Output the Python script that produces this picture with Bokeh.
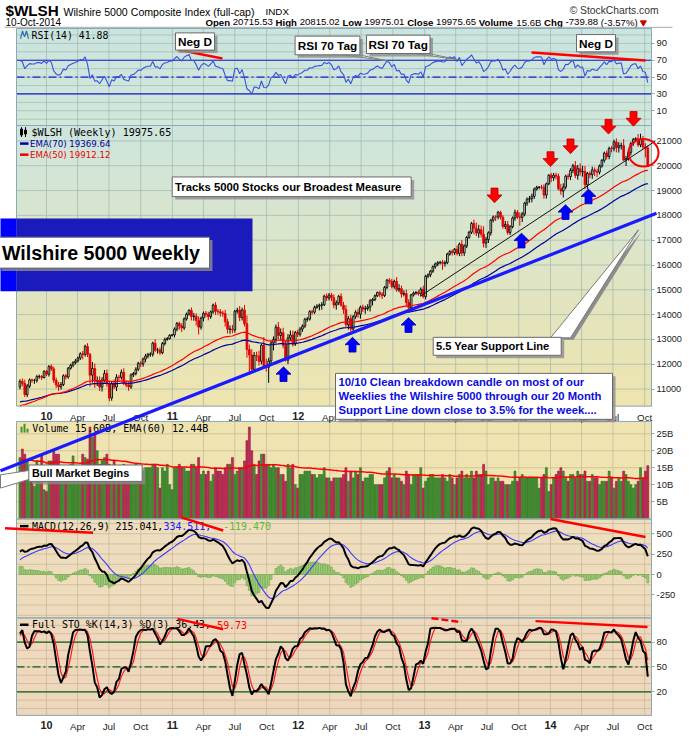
import numpy as np
import pandas as pd
from bokeh.plotting import figure
from bokeh.models import Range1d, LinearAxis, FixedTicker, ColumnDataSource
from bokeh.core.properties import value
from bokeh.embed import file_html
from bokeh.resources import INLINE

# ======================= DATA =======================
# weekly closes; the first 14 weeks (Jul-Oct 2009) are warm-up weeks left of the visible area
close_pre = [9100, 9730, 10140, 10230, 10460, 10390, 10620, 10650, 10520, 10790, 11060, 10810, 10610, 11090]
close_2009 = [11312, 11228, 10776, 11121, 11372, 11351, 11352, 11501, 11507, 11466, 11716, 11597]
close_2010 = [11908, 11814, 11355, 11169, 11088, 11185, 11536, 11487, 11842, 11960, 12063, 12133,
              12252, 12422, 12398, 12720, 12400, 11560, 11830, 11320, 11340, 11080, 11360, 11630, 11210,
              10640, 11220, 11080, 11480, 11470, 11680, 11240, 11160, 11090, 11575, 11630, 11800, 12040,
              12010, 12210, 12330, 12400, 12400, 12850, 12570, 12570, 12465, 12835, 13000, 13035, 13170, 13180]
close_2011 = [13414, 13643, 13540, 13465, 13830, 14023, 14170, 13925, 13940, 13760, 13495, 13860,
              14057, 14013, 13923, 14110, 14386, 14140, 14114, 14066, 14043, 13717, 13409, 13414, 13383,
              14134, 14177, 13885, 14190, 13634, 12594, 12377, 11797, 12356, 12327, 12119, 12768, 11932, 11880,
              12133, 12858, 13002, 13494, 13159, 13271, 12765, 12166, 13065, 13180, 12807, 13286, 13205]
close_2012 = [13417, 13536, 13812, 13821, 14121, 14097, 14293, 14340, 14385, 14394, 14744, 14670, 14789,
              14680, 14388, 14474, 14736, 14376, 14211, 13600, 13837, 13419, 13920, 14099, 14018, 14303,
              14224, 14246, 14308, 14553, 14605, 14762, 14891, 14817, 14769, 15098, 15391, 15332, 15127,
              15339, 15000, 15049, 14825, 14849, 14489, 14279, 14797, 14870, 14890, 14843, 15017, 14725]
close_2013 = [15545, 15604, 15751, 15931, 16040, 16090, 16110, 16065, 16093, 16443, 16543, 16503, 16634,
              16465, 16842, 16486, 16771, 17113, 17317, 17676, 17486, 17285, 17420, 17243, 16879, 17027,
              17298, 17810, 17936, 17932, 18123, 17929, 17551, 17633, 17309, 17545, 17893, 18125, 17933,
              17919, 18054, 18492, 18654, 18673, 18768, 19061, 19131, 19141, 19134, 18818, 19274, 19620]
close_2014 = [19510, 19620, 19580, 19070, 18980, 19140, 19580, 19560, 19810, 20000, 19610, 19880, 19750,
              19770, 19230, 19690, 19640, 19830, 19770, 19740, 19990, 20220, 20510, 20370, 20700, 20690,
              20960, 20730, 20810, 20810, 20230, 20290, 20540, 20900, 21060, 21090, 20840, 21070, 20760,
              20715.53, 19975.65]

# extent of the weekly high above / low below the candle body (index points)
wick_hi_pre = [60, 90, 60, 60, 80, 50, 60, 40, 60, 70, 60, 70, 60, 50]
wick_hi_2009 = [80, 120, 150, 80, 60, 50, 60, 70, 80, 60, 40, 50]
wick_hi_2010 = [60, 90, 90, 110, 120, 100, 60, 70, 50, 60, 60, 80, 60, 60, 110, 70, 130, 50, 260, 200, 170,
                170, 120, 140, 160, 120, 90, 170, 120, 90, 110, 160, 110, 110, 60, 60, 80, 60, 90, 60, 90, 60, 80,
                60, 160, 90, 110, 60, 70, 60, 40, 40]
wick_hi_2011 = [70, 60, 80, 110, 60, 60, 50, 120, 130, 110, 170, 60, 70, 90, 100, 60, 60, 120, 90, 110, 90,
                150, 120, 150, 170, 60, 100, 170, 90, 200, 330, 200, 230, 140, 150, 220, 60, 330, 290,
                130, 100, 120, 110, 210, 170, 200, 190, 150, 180, 170, 60, 100]
wick_hi_2012 = [80, 70, 60, 80, 60, 80, 70, 80, 60, 110, 60, 110, 80, 90, 140, 100, 60, 130, 140, 170, 110,
                160, 60, 80, 140, 60, 100, 120, 110, 80, 60, 50, 40, 70, 90, 60, 50, 80, 110, 70, 170, 180, 120,
                130, 160, 130, 40, 60, 60, 100, 80, 150]
wick_hi_2013 = [60, 60, 50, 50, 60, 70, 60, 100, 80, 50, 60, 90, 50, 150, 60, 160, 60, 60, 60, 60, 150, 220,
                200, 170, 320, 110, 60, 50, 60, 70, 60, 60, 80, 140, 140, 60, 60, 110, 90, 180, 80, 50, 70,
                110, 110, 60, 60, 40, 90, 120, 50, 40]
wick_hi_2014 = [90, 90, 100, 110, 200, 150, 60, 100, 90, 80, 190, 150, 220, 230, 220, 60, 80,
                130, 100, 110, 60, 50, 60, 110, 70, 90, 90, 140, 140, 120, 260, 110, 80, 60, 60,
                60, 190, 220, 130, 150, 100]
wick_lo_pre = [150, 80, 70, 90, 70, 110, 70, 80, 120, 60, 60, 80, 100, 90]
wick_lo_2009 = [100, 110, 90, 100, 80, 100, 140, 90, 80, 100, 40, 70]
wick_lo_2010 = [90, 80, 110, 130, 160, 110, 60, 100, 70, 60, 80, 70, 60, 80, 200, 90, 110, 460, 300, 270, 200,
                160, 180, 90, 120, 130, 110, 80, 160, 140, 90, 80, 90, 160, 80, 90, 80, 70, 120, 110, 130, 90, 100,
                90, 80, 140, 90, 60, 80, 50, 40, 50]
wick_lo_2011 = [100, 90, 150, 170, 80, 70, 60, 160, 170, 200, 300, 100, 130, 120, 150, 90, 70, 150, 120, 140, 130,
                200, 170, 180, 130, 110, 90, 150, 120, 110, 330, 800, 60, 30, 200, 170, 120, 60, 180,
                630, 120, 300, 150, 160, 200, 120, 60, 160, 120, 100, 70, 110]
wick_lo_2012 = [90, 110, 70, 100, 60, 100, 70, 60, 170, 190, 50, 120, 100, 130, 130, 190, 90, 60, 180, 110, 200,
                100, 120, 100, 150, 180, 120, 190, 90, 180, 180, 60, 50, 120, 140, 60, 70, 90, 70, 80, 80, 100, 140,
                90, 140, 170, 60, 70, 70, 80, 110, 70]
wick_lo_2013 = [110, 80, 90, 70, 80, 90, 70, 260, 130, 60, 70, 120, 100, 80, 110, 130, 120, 90, 60, 70, 250, 120,
                190, 130, 170, 190, 140, 110, 90, 160, 90, 100, 90, 110, 90, 100, 70, 110, 80, 330, 190, 90, 110,
                140, 150, 100, 60, 80, 90, 150, 140, 60]
wick_lo_2014 = [170, 120, 130, 60, 150, 260, 90, 120, 140, 110, 110, 170, 150, 190, 170, 170, 140,
                170, 190, 200, 90, 70, 90, 120, 110, 150, 110, 190, 200, 160, 40, 240, 80, 130, 100,
                110, 80, 90, 80, 380, 1]

# weekly volume, billions
vol_pre = [17, 16, 18, 17, 19, 17, 16, 17, 14, 16, 19, 17, 17, 16]
vol_2009 = [18, 20.5, 19, 17, 13.5, 15, 9.5, 17, 15, 18.5, 8.5, 8]
vol_2010 = [17, 17, 20, 19, 19, 15.5, 14, 15, 15, 16, 18.5, 15.5, 13, 14, 19, 18, 17.5, 27, 24, 25, 20,
            16, 17, 18, 19, 16, 13, 17, 15, 14, 14, 16, 14, 13, 12, 11, 16, 14, 13, 14, 15, 15, 15,
            16, 16, 15, 9, 15, 14, 16, 10, 8.5]
vol_2011 = [15, 15, 16, 15, 15, 14, 14, 16, 16, 15, 18, 13, 14, 13, 14, 11, 13, 15, 14, 14, 13,
            15, 16, 16, 18, 13, 14, 15, 15, 17, 23, 27, 20, 16, 13, 17, 19, 19, 16, 16, 15, 16, 15,
            15, 13, 13, 11, 16, 15, 16, 10, 9]
vol_2012 = [13, 13, 14, 14, 14, 13, 13, 12, 13, 13, 15, 12, 12, 11, 12, 12, 12, 12, 13, 15, 11,
            14, 12, 14, 13, 15, 11, 12, 12, 13, 13, 10, 10, 10, 10, 12, 14, 15, 12, 13, 12, 12, 11,
            10, 14, 13, 10, 13, 13, 13, 15, 9]
vol_2013 = [11, 12, 13, 13, 12, 12, 12, 13, 12, 11, 13, 12, 10, 12, 13, 14, 12, 13, 12, 14, 12, 14,
            13, 13, 16, 14, 10, 12, 12, 11, 12, 11, 11, 10, 10, 10, 11, 14, 11, 12, 13, 12, 12,
            12, 12, 12, 12, 9, 12, 13, 15, 8]
vol_2014 = [10, 12, 13, 14, 15, 14, 12, 11, 13, 13, 12, 14, 13, 13, 14, 11, 11, 13, 12, 12, 10, 11,
            11, 11, 14, 12, 9, 11, 12, 11, 14, 13, 11, 10, 9, 10, 11, 15, 12, 14, 15.6]

first_open = 9300.0
last_week = "2014-10-10"

# indicator starting values (just before the first warm-up week)
seed_ema70, seed_ema50 = 10440.0, 10110.0
seed_ema12, seed_ema26, seed_signal = 9800.0, 9950.0, 100.0
seed_gain, seed_loss = 180.0, 120.0
seed_vol_ema = 17.5

# axis ticks / labels
rsi_ticks = [10, 30, 50, 70, 90]
price_ticks = [11000, 12000, 13000, 14000, 15000, 16000, 17000, 18000, 19000, 20000, 21000]
vol_ticks = [5, 10, 15, 20, 25]
vol_labels = ["5B", "10B", "15B", "20B", "25B"]
macd_ticks = [-250, 0, 250, 500]
sto_ticks = [20, 50, 80]
tick_years = [2010, 2011, 2012, 2013, 2014]
year_labels = ["10", "11", "12", "13", "14"]
month_labels = {4: "Apr", 7: "Jul", 10: "Oct"}

groups = [("pre", close_pre, wick_hi_pre, wick_lo_pre, vol_pre), ("2009", close_2009, wick_hi_2009, wick_lo_2009, vol_2009),
          ("2010", close_2010, wick_hi_2010, wick_lo_2010, vol_2010), ("2011", close_2011, wick_hi_2011, wick_lo_2011, vol_2011),
          ("2012", close_2012, wick_hi_2012, wick_lo_2012, vol_2012), ("2013", close_2013, wick_hi_2013, wick_lo_2013, vol_2013),
          ("2014", close_2014, wick_hi_2014, wick_lo_2014, vol_2014)]
for g in groups:
    assert len(g[1]) == len(g[2]) == len(g[3]) == len(g[4]), (g[0], len(g[1]), len(g[2]), len(g[3]), len(g[4]))

closes = sum([g[1] for g in groups], [])
whi = sum([g[2] for g in groups], [])
wlo = sum([g[3] for g in groups], [])
vols = sum([g[4] for g in groups], [])
D0 = len(close_pre)
dates = pd.date_range(end=last_week, periods=len(closes), freq="W-FRI")

c = np.array(closes, float)
o = np.array([first_open] + closes[:-1], float)
hi = np.maximum(o, c) + np.array(whi, float)
lo = np.minimum(o, c) - np.array(wlo, float)
v = np.array(vols, float)


def ema(vals, n, seed):
    a = 2.0 / (n + 1)
    e, out = seed, []
    for x in vals:
        e = e + a * (x - e)
        out.append(e)
    return np.array(out)


ema70 = ema(c, 70, seed_ema70)
ema50 = ema(c, 50, seed_ema50)
macd = ema(c, 12, seed_ema12) - ema(c, 26, seed_ema26)
signal = ema(macd, 9, seed_signal)
hist = macd - signal
vol_ema = ema(v, 60, seed_vol_ema)
rsi, ag, al, prev = [], seed_gain, seed_loss, first_open
for x in c:
    ch = x - prev
    prev = x
    ag = (ag * 13 + max(ch, 0)) / 14
    al = (al * 13 + max(-ch, 0)) / 14
    rsi.append(100 - 100 / (1 + ag / al))
rsi = np.array(rsi)
fk = np.array([100 * (c[i] - lo[max(0, i - 13):i + 1].min()) /
               (hi[max(0, i - 13):i + 1].max() - lo[max(0, i - 13):i + 1].min()) for i in range(len(c))])


def sma(a, n):
    return np.array([a[max(0, i - n + 1):i + 1].mean() for i in range(len(a))])


stok = sma(fk, 3)
stod = sma(stok, 3)
up = c >= np.concatenate([[first_open], c[:-1]])

# ======================= LAYOUT (reference pixel units) =======================
W, H = 684, 732
XR0, XR1 = 0.0, float(W)           # horizontal: 1:1 with the reference
SY = 0.982                         # vertical compression so the bottom labels fit
YR_TOP = 2.0
YR_BOT = YR_TOP + H / SY
LEFT, RIGHT = 16.0, 651.0
X_2010, X_2014 = 46.0, 550.0
t2010 = pd.Timestamp("2010-01-01").value / 1e6
t2014 = pd.Timestamp("2014-01-01").value / 1e6
MSPP = (t2014 - t2010) / (X_2014 - X_2010)
WK = 7 * 86400000.0


def xms(xr):
    return t2010 + (xr - X_2010) * MSPP


PANES = {
    "rsi": dict(cal=(90, 45.7, 10, 114.3), top=30.5, bot=129.3),
    "price": dict(cal=(21000, 145.0, 11000, 397.7), top=129.3, bot=415.0),
    "vol": dict(cal=(25, 443.3, 5, 512.3), top=430.7, bot=530.0),
    "macd": dict(cal=(500, 545.0, -250, 607.3), top=530.0, bot=630.7),
    "sto": dict(cal=(80, 655.3, 20, 706.0), top=630.7, bot=730.0),
}


def pval(name, y):
    v1, y1, v2, y2 = PANES[name]["cal"]
    return v1 + (y - y1) * (v2 - v1) / (y2 - y1)


p = figure(width=W, height=H, x_range=Range1d(xms(XR0), xms(XR1)), y_range=Range1d(YR_BOT, YR_TOP),
           output_backend="svg", toolbar_location=None, min_border=0,
           x_axis_location=None, y_axis_location=None)
p.extra_x_ranges = {"px": Range1d(XR0, XR1)}
p.extra_y_ranges = {k: Range1d(pval(k, YR_BOT), pval(k, YR_TOP)) for k in PANES}
p.outline_line_color = None
p.grid.visible = False
p.background_fill_color = "white"
p.border_fill_color = "white"


def fs(size):
    return "%.2fpx" % (size * SY)


def ov(r):
    r.level = "overlay"
    return r


def mix(c0, c1, t):
    return "#%02x%02x%02x" % tuple(int(round(a + (b - a) * t)) for a, b in zip(c0, c1))


# --- pane backgrounds (vertical gradients) ---
BG = {"rsi": ((202, 228, 223), (208, 231, 217)), "price": ((206, 229, 221), (238, 228, 174)),
      "vol": ((239, 228, 177), (239, 228, 177)), "macd": ((238, 221, 190), (238, 219, 189)),
      "sto": ((239, 217, 190), (238, 214, 189))}
for k, cfg in PANES.items():
    n = 40
    ys = np.linspace(cfg["top"], cfg["bot"], n + 1)
    cols = [mix(BG[k][0], BG[k][1], i / (n - 1)) for i in range(n)]
    p.quad(left=LEFT, right=RIGHT, top=ys[:-1], bottom=ys[1:] + 0.6, fill_color=cols, line_color=None,
           x_range_name="px")

# --- grid lines ---
qticks = [pd.Timestamp(year=y, month=m, day=1) for y in tick_years for m in (1, 4, 7, 10)]
qms = [t.value / 1e6 for t in qticks]
GRIDVALS = {"rsi": list(range(0, 101, 10)), "price": list(range(11000, 21001, 1000)),
            "vol": [5, 10, 15, 20, 25], "macd": list(range(-500, 626, 125)), "sto": list(range(0, 101, 10))}
for k, cfg in PANES.items():
    gc = "#9fb7ae" if k in ("rsi", "price") else "#c7b58e"
    p.segment(x0=qms, x1=qms, y0=cfg["top"], y1=cfg["bot"], line_color=gc, line_alpha=0.7, line_width=1)
    gv = [g for g in GRIDVALS[k] if pval(k, cfg["bot"]) < g < pval(k, cfg["top"])]
    p.segment(x0=xms(LEFT), x1=xms(RIGHT), y0=gv, y1=gv, line_color=gc, line_alpha=0.7, line_width=1,
              y_range_name=k)

# --- reference levels ---
for lvl, dash in ((70, "solid"), (30, "solid"), (50, "8 3 2 3")):
    p.segment(x0=[xms(LEFT)], x1=[xms(RIGHT)], y0=[lvl], y1=[lvl], line_color="#1c1ccc", line_width=1.2,
              line_dash=dash, y_range_name="rsi")
for lvl, dash in ((80, "solid"), (20, "solid"), (50, "8 3 2 3")):
    p.segment(x0=[xms(LEFT)], x1=[xms(RIGHT)], y0=[lvl], y1=[lvl], line_color="#0b5e12", line_width=1.2,
              line_dash=dash, y_range_name="sto")

# --- data ---
x = dates[D0:].to_numpy()
body_top = np.maximum(o, c)[D0:]
body_bot = np.minimum(o, c)[D0:]
ccol = np.where(up[D0:], "black", "#e00000")
src = ColumnDataSource(dict(x=x, hi=hi[D0:], lo=lo[D0:], top=body_top, bot=body_bot, col=ccol,
                            fa=np.where(c[D0:] > o[D0:], 0.0, 1.0)))
p.segment(x0="x", y0="top", x1="x", y1="hi", line_color="col", line_width=1, source=src, y_range_name="price")
p.segment(x0="x", y0="bot", x1="x", y1="lo", line_color="col", line_width=1, source=src, y_range_name="price")
p.vbar(x="x", width=WK * 0.7, top="top", bottom="bot", fill_color="col", fill_alpha="fa", line_color="col",
       line_width=0.9, source=src, y_range_name="price")
p.line(x, ema70[D0:], line_color="#000099", line_width=1.2, y_range_name="price")
p.line(x, ema50[D0:], line_color="#ff0000", line_width=1.2, y_range_name="price")

p.line(x, rsi[D0:], line_color="#3552e0", line_width=1.1, y_range_name="rsi")

vsrc = ColumnDataSource(dict(x=x, v=v[D0:], f=np.where(up[D0:], "#3f9330", "#c8285a"),
                             l=np.where(up[D0:], "#2b6a1f", "#8e1539")))
p.vbar(x="x", width=WK * 0.8, top="v", bottom=0, fill_color="f", line_color="l", line_width=0.6,
       source=vsrc, y_range_name="vol")
p.line(x, vol_ema[D0:], line_color="#ff0000", line_width=1.5, y_range_name="vol")

p.vbar(x=x, width=WK * 0.75, top=hist[D0:], bottom=0, fill_color="#a8d581", line_color="#5f9f40",
       line_width=0.6, y_range_name="macd")
p.line(x, signal[D0:], line_color="#3a3aff", line_width=1.1, y_range_name="macd")
p.line(x, macd[D0:], line_color="black", line_width=2, y_range_name="macd")

p.line(x, stod[D0:], line_color="#ff1a1a", line_width=1.2, y_range_name="sto")
p.line(x, stok[D0:], line_color="black", line_width=2, y_range_name="sto")

# --- pane borders ---
for k, cfg in PANES.items():
    p.quad(left=[LEFT], right=[RIGHT], top=[cfg["top"]], bottom=[cfg["bot"]], fill_color=None,
           line_color="#8aabb4", line_width=1, x_range_name="px")


# --- text helpers ---
def txt(xx, yy, s, size, color="black", bold=False, font="Liberation Sans", align="left", level=True):
    r = p.text(x=[xx], y=[yy], text=[s], x_range_name="px", text_font=value(font), text_font_size=fs(size),
               text_font_style="bold" if bold else "normal", text_color=color, text_align=align,
               text_baseline="middle")
    return ov(r) if level else r


def box(x0, y0, x1, y1, sh=3):
    ov(p.quad(left=[x0 + sh], right=[x1 + sh], top=[y0 + sh], bottom=[y1 + sh], fill_color="#8c8c8c",
              fill_alpha=0.8, line_color=None, x_range_name="px"))
    ov(p.quad(left=[x0], right=[x1], top=[y0], bottom=[y1], fill_color="white", line_color="#6a6a6a",
              line_width=1, x_range_name="px"))


def seg(x0, y0, x1, y1, color, width, dash="solid"):
    ov(p.line(x=[x0, x1], y=[y0, y1], line_color=color, line_width=width, line_dash=dash, x_range_name="px"))


def poly(xs, ys, fill, line=None):
    ov(p.patch(x=xs, y=ys, fill_color=fill, line_color=line, line_width=1, x_range_name="px"))


# --- header ---
txt(5, 12.5, "$WLSH", 15.5, bold=True)
txt(63, 13.5, "Wilshire 5000 Composite Index (full-cap)", 10.8)
txt(265, 13.5, "INDX", 10)
txt(658, 12.5, "\u00a9 StockCharts.com", 10.5, color="#333333", align="right")
txt(5, 24, "10-Oct-2014", 10.2)
AR = {' ': 278, '.': 278, '-': 333, '(': 333, ')': 333, '%': 889, 'B': 667}
ARB = {'O': 778, 'p': 611, 'e': 556, 'n': 611, 'H': 722, 'i': 278, 'g': 611, 'h': 611, 'L': 611, 'o': 611,
       'w': 778, 'C': 722, 'l': 278, 's': 556, 'V': 667, 'u': 611, 'm': 889}
pieces = [("Open", 1), ("20715.53", 0), ("High", 1), ("20815.02", 0), ("Low", 1), ("19975.01", 0),
          ("Close", 1), ("19975.65", 0), ("Volume", 1), ("15.6B", 0), ("Chg", 1), ("-739.88", 0), ("(-3.57%)", 0)]
hx, hsz = 205.0, 9.8
for s, b in pieces:
    txt(hx, 24, s, hsz, bold=bool(b))
    hx += (sum((ARB if b else AR).get(ch, 556) for ch in s) / 1000 + 0.278) * hsz * SY
ov(p.scatter(x=[hx + 3], y=[24.5], marker="inverted_triangle", size=6, color="#cc0000", x_range_name="px"))
seg(4, 29.3, 672, 29.3, "#a8a8a8", 1)

# --- pane labels ---
MONO = "DejaVu Sans Mono"
ov(p.line(x=[20, 22, 24, 26, 28], y=[41, 33, 39, 33, 41], line_color="#2d6fb0", line_width=1.2, x_range_name="px"))
txt(31, 37.3, "RSI(14) 41.88", 10, font=MONO, level=False)
for xx in (21, 25):
    seg(xx, 131, xx, 141, "black", 1)
ov(p.quad(left=[20, 24], right=[22, 26], top=[133, 134], bottom=[139, 138], fill_color="black", line_color="black",
          x_range_name="px"))
txt(31, 136, "$WLSH (Weekly) 19975.65", 10.3, font=MONO, level=False)
seg(19.5, 147.7, 28, 147.7, "#000099", 2.5)
txt(29.5, 147.7, "EMA(70) 19369.64", 8.8, color="#000099", font="DejaVu Sans", level=False)
seg(19.5, 159, 28, 159, "#ee0000", 2.5)
txt(29.5, 159, "EMA(50) 19912.12", 8.8, color="#ee0000", font="DejaVu Sans", level=False)
ov(p.quad(left=[20, 23, 26], right=[22, 25, 28], top=[436, 433, 438], bottom=[442, 442, 442],
          fill_color="#3f9330", line_color=None, x_range_name="px"))
txt(31.7, 437.7, "Volume 15.60B, EMA(60) 12.44B", 10.3, font=MONO, level=False)
CW = 0.602 * 10.1 * SY
seg(19.5, 537.3, 28, 537.3, "black", 2.5)
txt(31.6, 537.3, "MACD(12,26,9) 215.041,", 10.1, font=MONO, level=False)
txt(31.6 + 22 * CW, 537.3, " 334.511,", 10.1, color="#2020ff", font=MONO, level=False)
txt(31.6 + 32 * CW, 537.3, "-119.470", 10.1, color="#5cb83c", font=MONO, level=False)
seg(19.5, 637.7, 28, 637.7, "black", 2.5)
txt(31.6, 637.7, "Full STO %K(14,3) %D(3) 36.43,", 10.1, font=MONO, level=False)
txt(31.6 + 31 * CW, 637.7, "59.73", 10.1, color="#ff0000", font=MONO, level=False)

# --- annotations: RSI pane ---
BOLD = 12
seg(178, 52.3, 222, 61, "#ff0000", 2.5)
box(175, 35, 214, 52.5)
txt(194.5, 43.8, "Neg D", BOLD, bold=True, align="center")
poly([342, 358, 387], [57.3, 57.3, 63.5], "white", "#7a7a7a")
box(294.6, 38.3, 359.4, 57.3)
txt(327, 47.8, "RSI 70 Tag", BOLD, bold=True, align="center")
poly([414, 428, 456], [56, 56, 62], "white", "#7a7a7a")
box(366, 37.3, 429.5, 56)
txt(397.7, 46.7, "RSI 70 Tag", BOLD, bold=True, align="center")
seg(531, 55, 645, 63, "#ff0000", 2.5)
box(576, 36.7, 615, 54.3)
txt(595.5, 45.5, "Neg D", BOLD, bold=True, align="center")

# --- annotations: price pane ---
box(171.7, 181.7, 410.7, 201.7)
txt(174.5, 191.8, "Tracks 5000 Stocks our Broadest Measure", 11.5, bold=True)
ov(p.quad(left=[0], right=[LEFT], top=[224], bottom=[298], fill_color="#0000ff", line_color=None, x_range_name="px"))
ov(p.quad(left=[LEFT], right=[252], top=[224], bottom=[298], fill_color="#1b1abd", line_color=None, x_range_name="px"))
box(-2, 243, 209, 274.5)
txt(1.5, 259.5, "Wilshire 5000 Weekly", 20, bold=True)
seg(420, 303, 655, 145, "#111111", 1)
seg(0, 481, 656, 218.6, "#1a1aff", 3.2)


def down_arrow(cx, top):
    return [cx - 3.5, cx + 3.5, cx + 3.5, cx + 7.5, cx, cx - 7.5, cx - 3.5], \
           [top, top, top + 7, top + 7, top + 15, top + 7, top + 7]


def up_arrow(cx, tip):
    return [cx - 3.5, cx + 3.5, cx + 3.5, cx + 7.5, cx, cx - 7.5, cx - 3.5], \
           [tip + 15, tip + 15, tip + 7.5, tip + 7.5, tip, tip + 7.5, tip + 7.5]


red_arrows = [(494, 193), (550, 156), (570, 143), (608, 123), (633, 115)]
blue_arrows = [(283, 375), (352, 345), (408, 325), (521, 239), (565, 210), (588, 194)]
ra = [down_arrow(*a) for a in red_arrows]
ba = [up_arrow(*a) for a in blue_arrows]
ov(p.patches(xs=[a[0] for a in ra], ys=[a[1] for a in ra], fill_color="#ff0000", line_color="#c00000",
             line_width=0.8, x_range_name="px"))
ov(p.patches(xs=[a[0] for a in ba], ys=[a[1] for a in ba], fill_color="#0000ff", line_color="#0000b0",
             line_width=0.8, x_range_name="px"))
ov(p.ellipse(x=[643], y=[157], width=30, height=28, fill_color=None, line_color="#ff0000", line_width=2,
             x_range_name="px"))
poly([553, 573, 641], [347.5, 347.5, 237.5], "#8c8c8c")
poly([550, 570, 638], [345.5, 345.5, 235.5], "white", "#7a7a7a")
box(432.7, 345, 560.7, 363.3)
txt(435.5, 354.2, "5.5 Year Support Line", 11.3, bold=True)
box(335, 381.7, 612, 428.5)
BLUE_TXT = "#0c0cdc"
txt(338, 390.3, "10/10  Clean breakdown candle on most of our", 11.5, color=BLUE_TXT, bold=True)
txt(338, 404.8, "Weeklies the Wilshire 5000 through our 20 Month", 11.5, color=BLUE_TXT, bold=True)
txt(338, 419.2, "Support Line down close to 3.5% for the week....", 11.5, color=BLUE_TXT, bold=True)

# --- annotations: volume / MACD / STO panes ---
poly([0, 29, 29, 0], [485, 480.5, 489.5, 498.5], "white", "#7a7a7a")
box(28.3, 475, 141.7, 491.7)
txt(31.5, 483.6, "Bull Market Begins", 11, bold=True)
seg(4.5, 539.3, 92.6, 544, "#ff0000", 2.5)
seg(180.7, 528.3, 222.7, 541.7, "#ff0000", 2.5)
seg(550, 530, 645, 548.3, "#ff0000", 2.5)
seg(177, 631.7, 222.7, 642.3, "#ff0000", 2.5)
seg(431, 631, 461, 635, "#ff0000", 2.5, "7 3")
seg(535, 634, 647, 640, "#ff0000", 2.5)

# --- axes ---
AXC = "#8aabb4"


def style_axis(ax, size=9.5, bold=False):
    ax.axis_line_color = AXC
    ax.major_tick_line_color = AXC
    ax.major_tick_out = 3
    ax.major_tick_in = 0
    ax.minor_tick_out = 0
    ax.minor_tick_in = 0
    ax.major_label_text_font = "Liberation Sans"
    ax.major_label_text_font_size = fs(size)
    ax.major_label_text_color = "#222222"
    ax.major_label_text_font_style = "bold" if bold else "normal"
    ax.major_label_standoff = 2


right_ticks = {"rsi": (rsi_ticks, None), "price": (price_ticks, None), "vol": (vol_ticks, vol_labels),
               "macd": (macd_ticks, None), "sto": (sto_ticks, None)}
for k, (tks, labs) in right_ticks.items():
    ax = LinearAxis(y_range_name=k, fixed_location=xms(RIGHT), ticker=FixedTicker(ticks=tks),
                    bounds=(pval(k, PANES[k]["bot"]), pval(k, PANES[k]["top"])))
    style_axis(ax, 9.3 if k == "price" else 9.6)
    ax.major_label_overrides = {t: (labs[i] if labs else str(t)) for i, t in enumerate(tks)}
    p.add_layout(ax, "right")

year_ms = [int(pd.Timestamp(year=y, month=1, day=1).value // 10**6) for y in tick_years]
mon_ms, mon_lab = [], []
for y in tick_years:
    for m, lab in month_labels.items():
        mon_ms.append(int(pd.Timestamp(year=y, month=m, day=1).value // 10**6))
        mon_lab.append(lab)
for yloc, stand in ((PANES["price"]["bot"], 3), (PANES["sto"]["bot"], 3)):
    axm = LinearAxis(fixed_location=yloc, ticker=FixedTicker(ticks=mon_ms))
    style_axis(axm, 10)
    axm.axis_line_color = None
    axm.major_tick_line_color = None
    axm.major_label_standoff = stand
    axm.major_label_overrides = dict(zip(mon_ms, mon_lab))
    p.add_layout(axm, "below")
    axy = LinearAxis(fixed_location=yloc, ticker=FixedTicker(ticks=year_ms))
    style_axis(axy, 11, bold=True)
    axy.axis_line_color = None
    axy.major_tick_line_color = None
    axy.major_label_standoff = stand
    axy.major_label_overrides = dict(zip(year_ms, year_labels))
    p.add_layout(axy, "below")

open("out.html", "w", encoding="utf-8").write(file_html(p, INLINE))
